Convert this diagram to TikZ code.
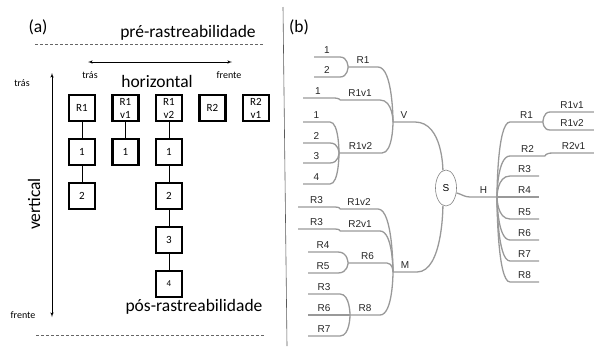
\documentclass[tikz,border=0pt]{standalone}
\usepackage{fontspec}
\setmainfont{Carlito}
\newfontfamily\mapfont{Liberation Sans}
\usetikzlibrary{arrows,shapes.geometric}

\begin{document}
\begin{tikzpicture}[x=1pt,y=-1pt,>=latex',node distance=44pt,
  req node/.style={draw,line width=2.2pt,minimum size=26pt,inner sep=0pt,
  font=\fontsize{11}{13}\selectfont,align=center},
  big text/.style={font=\fontsize{17.5}{19}\selectfont},
  small text/.style={font=\fontsize{10}{10}\selectfont},
  map node/.style={font=\mapfont\fontsize{10}{10}\selectfont,text=black!85,
  anchor=south,inner xsep=0pt,inner ysep=2.5pt,outer sep=0pt,
  text height=6.5pt,text depth=1.5pt},
  map line/.style={draw=black!40,line width=1.3pt},
  cut line/.style={black!60,dash pattern=on 3pt off 2pt}]

  \useasboundingbox (0,0) rectangle (594,346);

%(a) rastreabilidade
  \node[big text] (pa) at (38,27) {(a)};
  \node[big text] (pre) at (188,33) {pré-rastreabilidade};
  \node[big text] (hor) at (157,81) {horizontal};
  \node[big text,rotate=90] (ver) at (34,204) {vertical};
  \node[big text] (pos) at (194,307) {pós-rastreabilidade};
  \node[small text] (htras) at (90,75) {trás};
  \node[small text] (hfrente) at (229,75) {frente};
  \node[small text] (vtras) at (22,83) {trás};
  \node[small text] (vfrente) at (23,315) {frente};

  \coordinate (hl) at (88,62);
  \coordinate (hr) at (232,62);
  \coordinate (vt) at (52,73);
  \coordinate (vb) at (52,317);
  \draw[<->,semithick] (hl) -- (hr);
  \draw[<->,semithick] (vt) -- (vb);

  \draw[cut line] (35,44) -- (264,44);
  \draw[cut line] (36,335) -- (265,335);
  \draw[black!65,semithick] (283,7) -- (287,346);

  \node[req node] (R1) at (82,108) {R1};
  \node[req node] (R1v1) [right of=R1, node distance=43.5pt] {R1\\v1};
  \node[req node] (R1v2) [right of=R1v1, node distance=43.5pt] {R1\\v2};
  \node[req node] (R2) [right of=R1v2, node distance=43.5pt] {R2};
  \node[req node] (R2v1) [right of=R2, node distance=43.5pt] {R2\\v1};

  \node[req node] (R1a) [below of=R1] {1};
  \node[req node] (R1b) [below of=R1a] {2};
  \node[req node] (R1v1a) [below of=R1v1] {1};
  \node[req node] (R1v2a) [below of=R1v2] {1};
  \node[req node] (R1v2b) [below of=R1v2a] {2};
  \node[req node] (R1v2c) [below of=R1v2b] {3};
  \node[req node,font=\fontsize{9}{9}\selectfont] (R1v2d) [below of=R1v2c] {4};

%liens verticaux
  \draw (R1) -- (R1a);
  \draw (R1a) -- (R1b);
  \draw (R1v1) -- (R1v1a);
  \draw (R1v2) -- (R1v2a);
  \draw (R1v2a) -- (R1v2b);
  \draw (R1v2b) -- (R1v2c);
  \draw (R1v2c) -- (R1v2d);

%(b) carte
  \node[big text] (pb) at (299,27) {(b)};
  \node[ellipse,draw=black!50,semithick,minimum width=21pt,minimum height=36pt,
  inner sep=0pt,font=\mapfont\fontsize{10}{10}\selectfont] (S) at (446,188) {S};

  \node[map node,minimum width=22pt] (V) at (404,122) {V};
  \node[map node,minimum width=30pt] (Vr1) at (363,67) {R1};
  \node[map node,minimum width=26pt] (Vr1a) at (327,57) {1};
  \node[map node,minimum width=26pt] (Vr1b) at (327,77) {2};
  \node[map node,minimum width=40pt] (Vr1v1) at (360,100) {R1v1};
  \node[map node,minimum width=30pt] (Vr1v1a) at (318,98) {1};
  \node[map node,minimum width=43pt] (Vr1v2) at (360.5,153) {R1v2};
  \node[map node,minimum width=27pt] (Vr1v2a) at (316.5,122) {1};
  \node[map node,minimum width=27pt] (Vr1v2b) at (316.5,143) {2};
  \node[map node,minimum width=27pt] (Vr1v2c) at (316.5,163) {3};
  \node[map node,minimum width=27pt] (Vr1v2d) at (316.5,184) {4};

  \node[map node,minimum width=24pt] (M) at (405,272) {M};
  \node[map node,minimum width=38pt] (Mr1v2) at (359,209) {R1v2};
  \node[map node,minimum width=37pt] (Mr1v2a) at (316.5,207) {R3};
  \node[map node,minimum width=40pt] (Mr2v1) at (360,231) {R2v1};
  \node[map node,minimum width=37pt] (Mr2v1a) at (316.5,229) {R3};
  \node[map node,minimum width=39pt] (Mr6) at (367.5,263) {R6};
  \node[map node,minimum width=30pt] (Mr6a) at (323,252) {R4};
  \node[map node,minimum width=30pt] (Mr6b) at (323,273) {R5};
  \node[map node,minimum width=30pt] (Mr8) at (365,315) {R8};
  \node[map node,minimum width=32pt] (Mr8a) at (324,294) {R3};
  \node[map node,minimum width=32pt] (Mr8b) at (324,315) {R6};
  \node[map node,minimum width=32pt] (Mr8c) at (324,336) {R7};

  \node[map node,minimum width=27pt] (H) at (483.5,197) {H};
  \node[map node,minimum width=33pt] (Hr1) at (526.5,122) {R1};
  \node[map node,minimum width=44pt] (Hr1v1) at (572,112) {R1v1};
  \node[map node,minimum width=44pt] (Hr1v2) at (572,130) {R1v2};
  \node[map node,minimum width=35pt] (Hr2) at (527.5,156) {R2};
  \node[map node,minimum width=41pt] (Hr2v1) at (573.5,153) {R2v1};
  \node[map node,minimum width=29pt] (Hr3) at (524.5,176) {R3};
  \node[map node,minimum width=29pt] (Hr4) at (524.5,197) {R4};
  \node[map node,minimum width=29pt] (Hr5) at (524.5,219) {R5};
  \node[map node,minimum width=29pt] (Hr6) at (524.5,240) {R6};
  \node[map node,minimum width=29pt] (Hr7) at (524.5,261) {R7};
  \node[map node,minimum width=29pt] (Hr8) at (524.5,282) {R8};

%branche V
  \draw[map line] (V.south west) -- (V.south east) .. controls (S.100 |- V.south east) and (S.100) .. (S.100);
  \draw[map line] (Vr1.south west) -- (Vr1.south east) .. controls (V.south west |- Vr1.south east) and (V.south west) .. (V.south west);
  \draw[map line] (Vr1a.south west) -- (Vr1a.south east) .. controls (Vr1.south west |- Vr1a.south east) and (Vr1.south west) .. (Vr1.south west);
  \draw[map line] (Vr1b.south west) -- (Vr1b.south east) .. controls (Vr1.south west |- Vr1b.south east) and (Vr1.south west) .. (Vr1.south west);
  \draw[map line] (Vr1v1.south west) -- (Vr1v1.south east) .. controls (V.south west |- Vr1v1.south east) and (V.south west) .. (V.south west);
  \draw[map line] (Vr1v1a.south west) -- (Vr1v1a.south east) .. controls (Vr1v1.south west |- Vr1v1a.south east) and (Vr1v1.south west) .. (Vr1v1.south west);
  \draw[map line] (Vr1v2.south west) -- (Vr1v2.south east) .. controls (V.south west |- Vr1v2.south east) and (V.south west) .. (V.south west);
  \draw[map line] (Vr1v2a.south west) -- (Vr1v2a.south east) .. controls (Vr1v2.south west |- Vr1v2a.south east) and (Vr1v2.south west) .. (Vr1v2.south west);
  \draw[map line] (Vr1v2b.south west) -- (Vr1v2b.south east) .. controls (Vr1v2.south west |- Vr1v2b.south east) and (Vr1v2.south west) .. (Vr1v2.south west);
  \draw[map line] (Vr1v2c.south west) -- (Vr1v2c.south east) .. controls (Vr1v2.south west |- Vr1v2c.south east) and (Vr1v2.south west) .. (Vr1v2.south west);
  \draw[map line] (Vr1v2d.south west) -- (Vr1v2d.south east) .. controls (Vr1v2.south west |- Vr1v2d.south east) and (Vr1v2.south west) .. (Vr1v2.south west);

%branche M
  \draw[map line] (M.south west) -- (M.south east) .. controls (S.260 |- M.south east) and (S.260) .. (S.260);
  \draw[map line] (Mr1v2.south west) -- (Mr1v2.south east) .. controls (M.south west |- Mr1v2.south east) and (M.south west) .. (M.south west);
  \draw[map line] (Mr1v2a.south west) -- (Mr1v2a.south east) .. controls (Mr1v2.south west |- Mr1v2a.south east) and (Mr1v2.south west) .. (Mr1v2.south west);
  \draw[map line] (Mr2v1.south west) -- (Mr2v1.south east) .. controls (M.south west |- Mr2v1.south east) and (M.south west) .. (M.south west);
  \draw[map line] (Mr2v1a.south west) -- (Mr2v1a.south east) .. controls (Mr2v1.south west |- Mr2v1a.south east) and (Mr2v1.south west) .. (Mr2v1.south west);
  \draw[map line] (Mr6.south west) -- (Mr6.south east) .. controls (M.south west |- Mr6.south east) and (M.south west) .. (M.south west);
  \draw[map line] (Mr6a.south west) -- (Mr6a.south east) .. controls (Mr6.south west |- Mr6a.south east) and (Mr6.south west) .. (Mr6.south west);
  \draw[map line] (Mr6b.south west) -- (Mr6b.south east) .. controls (Mr6.south west |- Mr6b.south east) and (Mr6.south west) .. (Mr6.south west);
  \draw[map line] (Mr8.south west) -- (Mr8.south east) .. controls (M.south west |- Mr8.south east) and (M.south west) .. (M.south west);
  \draw[map line] (Mr8a.south west) -- (Mr8a.south east) .. controls (Mr8.south west |- Mr8a.south east) and (Mr8.south west) .. (Mr8.south west);
  \draw[map line] (Mr8b.south west) -- (Mr8b.south east) -- (Mr8.south west);
  \draw[map line] (Mr8c.south west) -- (Mr8c.south east) .. controls (Mr8.south west |- Mr8c.south east) and (Mr8.south west) .. (Mr8.south west);

%branche H
  \draw[map line] (S.-25) to[out=-15,in=180] (H.south west) -- (H.south east);
  \draw[map line] (H.south east) .. controls (H.south east) and (H.south east |- Hr1.south west) .. (Hr1.south west) -- (Hr1.south east);
  \draw[map line] (Hr1.south east) .. controls (Hr1.south east) and (Hr1.south east |- Hr1v1.south west) .. (Hr1v1.south west) -- (Hr1v1.south east);
  \draw[map line] (Hr1.south east) .. controls (Hr1.south east) and (Hr1.south east |- Hr1v2.south west) .. (Hr1v2.south west) -- (Hr1v2.south east);
  \draw[map line] (H.south east) .. controls (H.south east) and (H.south east |- Hr2.south west) .. (Hr2.south west) -- (Hr2.south east);
  \draw[map line] (Hr2.south east) .. controls (Hr2.south east) and (Hr2.south east |- Hr2v1.south west) .. (Hr2v1.south west) -- (Hr2v1.south east);
  \draw[map line] (H.south east) .. controls (H.south east) and (H.south east |- Hr3.south west) .. (Hr3.south west) -- (Hr3.south east);
  \draw[map line] (H.south east) -- (Hr4.south west) -- (Hr4.south east);
  \draw[map line] (H.south east) .. controls (H.south east) and (H.south east |- Hr5.south west) .. (Hr5.south west) -- (Hr5.south east);
  \draw[map line] (H.south east) .. controls (H.south east) and (H.south east |- Hr6.south west) .. (Hr6.south west) -- (Hr6.south east);
  \draw[map line] (H.south east) .. controls (H.south east) and (H.south east |- Hr7.south west) .. (Hr7.south west) -- (Hr7.south east);
  \draw[map line] (H.south east) .. controls (H.south east) and (H.south east |- Hr8.south west) .. (Hr8.south west) -- (Hr8.south east);

\end{tikzpicture}
\end{document}
